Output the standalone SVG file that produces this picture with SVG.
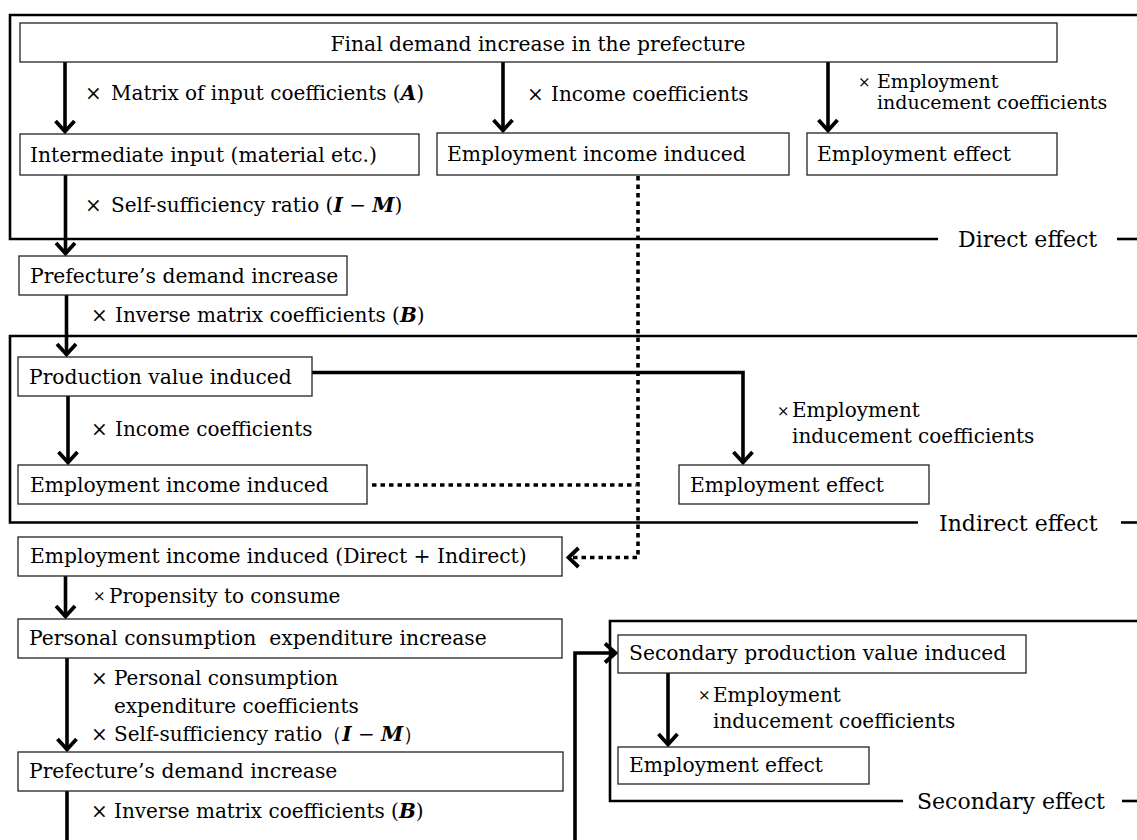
<svg xmlns="http://www.w3.org/2000/svg" width="1137" height="840" viewBox="0 0 1137 840">
<defs>
<style>
text{font-family:"DejaVu Serif","Liberation Serif",serif;fill:#000;}
.t{font-size:20.3px;}
.lb{font-size:20px;}
.lt{font-size:19px;}
.sx{font-size:15px;}
.sec{font-size:22px;}
.mb{font-weight:bold;font-style:italic;}
.box{fill:#fff;stroke:#222;stroke-width:1.3;}
.frame{fill:none;stroke:#000;stroke-width:2.6;}
.arr{fill:none;stroke:#000;stroke-width:3.6;}
.dot{fill:none;stroke:#000;stroke-width:3.6;stroke-dasharray:4.5 4;}
</style>
<marker id="ah" viewBox="-14 -12 18 24" markerWidth="18" markerHeight="24" refX="0" refY="0" orient="auto" markerUnits="userSpaceOnUse">
<path d="M-10.5,-9.5 L0,0 L-10.5,9.5" fill="none" stroke="#000" stroke-width="3.8"/>
</marker>
</defs>
<rect width="1137" height="840" fill="#fff"/>

<g id="frames">
<path class="frame" d="M1137,15 H10 V239 H938"/>
<path class="frame" d="M1117,239 H1137"/>
<path class="frame" d="M1137,336 H10 V522.5 H918"/>
<path class="frame" d="M1121,522.5 H1137"/>
<path class="frame" d="M1137,621 H610 V801 H903"/>
<path class="frame" d="M1122,801 H1137"/>
<text class="sec" x="958" y="247">Direct effect</text>
<text class="sec" x="939" y="531">Indirect effect</text>
<text class="sec" x="917" y="809">Secondary effect</text>
</g>

<g id="connectors">
<path class="arr" d="M65,62 V131.5" marker-end="url(#ah)"/>
<path class="arr" d="M503,62 V130.5" marker-end="url(#ah)"/>
<path class="arr" d="M828,62 V130.5" marker-end="url(#ah)"/>
<path class="arr" d="M65.5,175 V253.5" marker-end="url(#ah)"/>
<path class="arr" d="M66.5,295 V354.5" marker-end="url(#ah)"/>
<path class="arr" d="M68,396 V462.5" marker-end="url(#ah)"/>
<path class="arr" d="M312,372.5 H743 V462.5" marker-end="url(#ah)"/>
<path class="arr" d="M65.5,576 V616.5" marker-end="url(#ah)"/>
<path class="arr" d="M67,658 V749.5" marker-end="url(#ah)"/>
<path class="arr" d="M67,791 V840"/>
<path class="arr" d="M668,673 V744.5" marker-end="url(#ah)"/>
<path class="arr" d="M575,840 V653 H615.5" marker-end="url(#ah)"/>
<path class="dot" d="M638,176 V557.5 H570"/>
<path d="M578.5,548 L568.5,557.5 L578.5,567" fill="none" stroke="#000" stroke-width="3.8"/>
<path class="dot" d="M372,485 H636"/>
</g>

<g id="n-final"><rect class="box" x="20" y="23" width="1037" height="39"/><text class="t" x="538" y="51" text-anchor="middle">Final demand increase in the prefecture</text></g>
<g id="n-intermediate"><rect class="box" x="20" y="134" width="399" height="41"/><text class="t" x="30" y="162">Intermediate input (material etc.)</text></g>
<g id="n-income-direct"><rect class="box" x="437" y="133" width="352" height="42"/><text class="t" x="447" y="161">Employment income induced</text></g>
<g id="n-emp-direct"><rect class="box" x="807" y="133" width="250" height="42"/><text class="t" x="817" y="161">Employment effect</text></g>
<g id="n-pref1"><rect class="box" x="19" y="256" width="328" height="39"/><text class="t" x="30" y="283">Prefecture’s demand increase</text></g>
<g id="n-prod"><rect class="box" x="18" y="357" width="294" height="39"/><text class="t" x="29" y="384">Production value induced</text></g>
<g id="n-income-indirect"><rect class="box" x="18" y="465" width="349" height="39"/><text class="t" x="30" y="492">Employment income induced</text></g>
<g id="n-emp-indirect"><rect class="box" x="679" y="465" width="250" height="39"/><text class="t" x="690" y="492">Employment effect</text></g>
<g id="n-income-total"><rect class="box" x="18" y="537" width="544" height="39"/><text class="t" x="30" y="563">Employment income induced (Direct + Indirect)</text></g>
<g id="n-consumption"><rect class="box" x="18" y="619" width="544" height="39"/><text class="t" x="29" y="645" xml:space="preserve">Personal consumption  expenditure increase</text></g>
<g id="n-pref2"><rect class="box" x="18" y="752" width="545" height="39"/><text class="t" x="29" y="778">Prefecture’s demand increase</text></g>
<g id="n-secondary"><rect class="box" x="618" y="635" width="408" height="38"/><text class="t" x="629" y="660">Secondary production value induced</text></g>
<g id="n-emp-secondary"><rect class="box" x="618" y="747" width="251" height="37"/><text class="t" x="629" y="772">Employment effect</text></g>

<g id="labels">
<text class="lb" x="85" y="100">×</text><text class="lb" x="111" y="100">Matrix of input coefficients (<tspan class="mb">A</tspan>)</text>
<text class="lb" x="527" y="101">×</text><text class="lb" x="551" y="101">Income coefficients</text>
<text class="sx" x="858" y="87">×</text><text class="lt" x="877" y="87.5">Employment</text><text class="lt" x="877" y="109">inducement coefficients</text>
<text class="lb" x="85" y="212">×</text><text class="lb" x="111" y="212">Self-sufficiency ratio (<tspan class="mb">I</tspan> − <tspan class="mb">M</tspan>)</text>
<text class="lb" x="91" y="322">×</text><text class="lb" x="115" y="322">Inverse matrix coefficients (<tspan class="mb">B</tspan>)</text>
<text class="lb" x="91" y="436">×</text><text class="lb" x="115" y="436">Income coefficients</text>
<text class="sx" x="777" y="416">×</text><text class="lb" x="792" y="417">Employment</text><text class="lb" x="792" y="443">inducement coefficients</text>
<text class="sx" x="93" y="601">×</text><text class="lb" x="109" y="603">Propensity to consume</text>
<text class="lb" x="91" y="685">×</text><text class="lb" x="114" y="685">Personal consumption</text>
<text class="lb" x="114" y="713">expenditure coefficients</text>
<text class="lb" x="91" y="741">×</text><text class="lb" x="114" y="741">Self-sufficiency ratio（<tspan class="mb">I</tspan> − <tspan class="mb">M</tspan>）</text>
<text class="lb" x="91" y="818">×</text><text class="lb" x="114" y="818">Inverse matrix coefficients (<tspan class="mb">B</tspan>)</text>
<text class="sx" x="698" y="700">×</text><text class="lb" x="713" y="702">Employment</text><text class="lb" x="713" y="728">inducement coefficients</text>
</g>
</svg>
